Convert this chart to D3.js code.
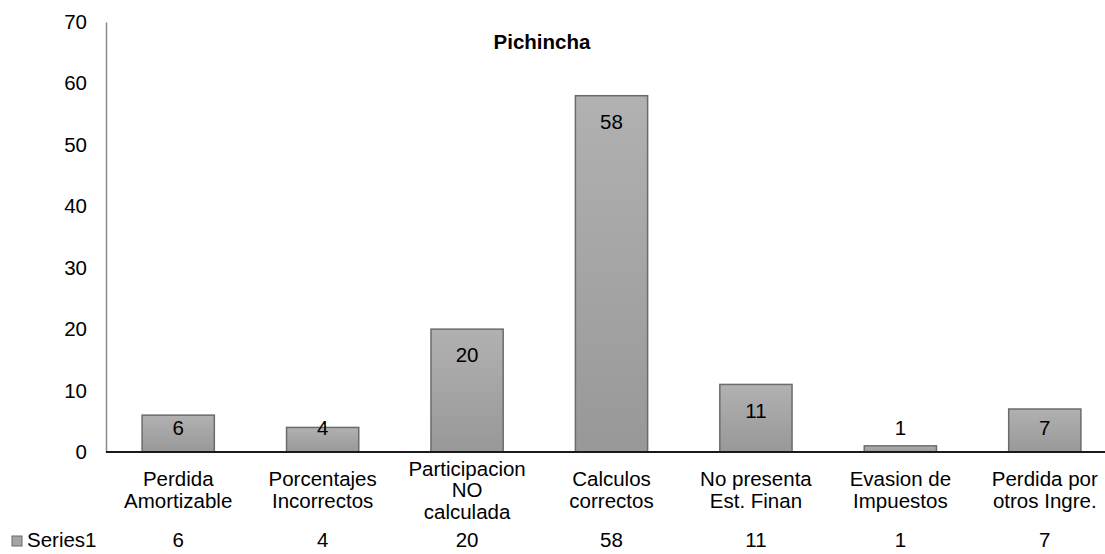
<!DOCTYPE html>
<html>
<head>
<meta charset="utf-8">
<script src="https://cdn.jsdelivr.net/npm/d3@7"></script>
<style>
  body { margin: 0; background: #fff; }
  svg { font-family: Arial, "Liberation Sans", sans-serif; }
</style>
</head>
<body>
<div id="chart"></div>
<script>
// Chart data
const categories = [
    ["Perdida", "Amortizable"],
    ["Porcentajes", "Incorrectos"],
    ["Participacion", "NO", "calculada"],
    ["Calculos", "correctos"],
    ["No presenta", "Est. Finan"],
    ["Evasion de", "Impuestos"],
    ["Perdida por", "otros Ingre."]
];
const values = [6, 4, 20, 58, 11, 1, 7];
const yTicks = [0, 10, 20, 30, 40, 50, 60, 70];
const seriesName = "Series1";
const title = "Pichincha";

const W = 1105, H = 554;
const plot = { left: 106, right: 1117, top: 22, bottom: 452 };
const fs = 20.5;

const svg = d3.select("#chart")
    .append("svg")
    .attr("width", W)
    .attr("height", H);

// gradient fill for bars
const grad = svg.append("defs").append("linearGradient")
    .attr("id", "barGrad")
    .attr("x1", 0).attr("y1", 0).attr("x2", 0).attr("y2", 1);
grad.append("stop").attr("offset", "0%").attr("stop-color", "#b1b1b1");
grad.append("stop").attr("offset", "100%").attr("stop-color", "#989898");

const x = d3.scaleBand()
    .domain(d3.range(values.length))
    .range([plot.left, plot.right])
    .paddingInner(0.5)
    .paddingOuter(0.25);

const y = d3.scaleLinear()
    .domain([0, 70])
    .range([plot.bottom, plot.top]);

// Y axis
const yAxis = svg.append("g")
    .attr("transform", `translate(${plot.left},0)`)
    .call(d3.axisLeft(y).tickValues(yTicks).tickSize(0).tickPadding(19));
yAxis.select(".domain").attr("stroke", "#8a8a8a").attr("stroke-width", 1.5);
yAxis.selectAll("text")
    .attr("font-size", fs)
    .attr("fill", "#000")
    .style("font-family", "Arial, 'Liberation Sans', sans-serif");

// Bars
svg.selectAll("rect.bar")
    .data(values)
    .enter()
    .append("rect")
    .attr("class", "bar")
    .attr("x", (d, i) => x(i))
    .attr("y", d => y(d))
    .attr("width", x.bandwidth())
    .attr("height", d => plot.bottom - y(d))
    .attr("fill", "url(#barGrad)")
    .attr("stroke", "#6b6b6b")
    .attr("stroke-width", 1.5);

// X axis line
svg.append("line")
    .attr("x1", plot.left).attr("x2", W)
    .attr("y1", y(0)).attr("y2", y(0))
    .attr("stroke", "#1a1a1a")
    .attr("stroke-width", 2);

// Value labels
svg.selectAll("text.val")
    .data(values)
    .enter()
    .append("text")
    .attr("class", "val")
    .attr("x", (d, i) => x(i) + x.bandwidth() / 2)
    .attr("y", d => Math.min(y(d) + 26, y(4)))
    .attr("dy", "0.35em")
    .attr("text-anchor", "middle")
    .attr("font-size", fs)
    .text(d => d);

// Category labels
const lineH = 21.5;
svg.selectAll("text.cat")
    .data(categories)
    .enter()
    .append("text")
    .attr("class", "cat")
    .attr("text-anchor", "middle")
    .attr("font-size", fs)
    .each(function (lines, i) {
        const cx = x(i) + x.bandwidth() / 2;
        const y0 = 490 - (lines.length - 1) * lineH / 2;
        d3.select(this).selectAll("tspan")
            .data(lines)
            .enter()
            .append("tspan")
            .attr("x", cx)
            .attr("y", (l, j) => y0 + j * lineH)
            .attr("dy", "0.35em")
            .text(l => l);
    });

// Data table row
const rowY = 540;
svg.append("rect")
    .attr("x", 12).attr("y", rowY - 4)
    .attr("width", 10).attr("height", 10)
    .attr("fill", "#a5a5a5")
    .attr("stroke", "#6b6b6b");
svg.append("text")
    .attr("x", 27).attr("y", rowY)
    .attr("dy", "0.35em")
    .attr("font-size", fs)
    .text(seriesName);
svg.selectAll("text.tbl")
    .data(values)
    .enter()
    .append("text")
    .attr("class", "tbl")
    .attr("x", (d, i) => x(i) + x.bandwidth() / 2)
    .attr("y", rowY)
    .attr("dy", "0.35em")
    .attr("text-anchor", "middle")
    .attr("font-size", fs)
    .text(d => d);

// Title
svg.append("text")
    .attr("x", 542).attr("y", 42)
    .attr("dy", "0.35em")
    .attr("text-anchor", "middle")
    .attr("font-size", fs)
    .attr("font-weight", "bold")
    .text(title);
</script>
</body>
</html>
